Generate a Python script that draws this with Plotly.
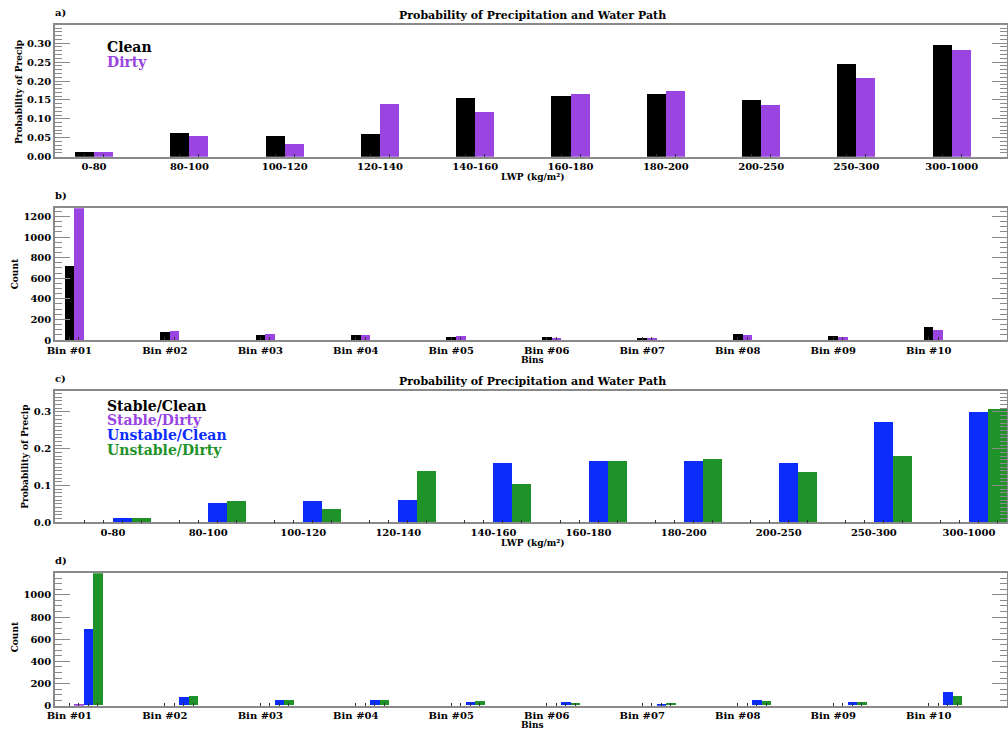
import numpy as np
import plotly.graph_objects as go

# ---- data -------------------------------------------------------------
lwp_bins = ["0-80", "80-100", "100-120", "120-140", "140-160",
            "160-180", "180-200", "200-250", "250-300", "300-1000"]
bin_names = ["Bin #01", "Bin #02", "Bin #03", "Bin #04", "Bin #05",
             "Bin #06", "Bin #07", "Bin #08", "Bin #09", "Bin #10"]

prob_clean = [0.012, 0.062, 0.055, 0.059, 0.156, 0.161, 0.167, 0.149, 0.245, 0.296]
prob_dirty = [0.012, 0.055, 0.033, 0.138, 0.118, 0.167, 0.174, 0.136, 0.207, 0.281]

count_clean = [713, 75, 49, 45, 29, 29, 13, 55, 36, 120]
count_dirty = [1280, 85, 55, 42, 39, 19, 19, 42, 29, 91]

prob_stable_clean = [0.0, 0.0, 0.0, 0.0, 0.0, 0.0, 0.0, 0.0, 0.0, 0.0]
prob_stable_dirty = [0.0, 0.0, 0.0, 0.0, 0.0, 0.0, 0.0, 0.0, 0.0, 0.0]
prob_unstable_clean = [0.012, 0.052, 0.058, 0.061, 0.162, 0.167, 0.167, 0.160, 0.274, 0.301]
prob_unstable_dirty = [0.012, 0.058, 0.035, 0.140, 0.104, 0.167, 0.173, 0.136, 0.180, 0.309]

count_stable_clean = [0, 0, 0, 0, 0, 0, 0, 0, 0, 0]
count_stable_dirty = [15, 0, 0, 0, 0, 0, 0, 0, 0, 0]
count_unstable_clean = [690, 76, 49, 49, 31, 31, 15, 52, 34, 118]
count_unstable_dirty = [1195, 84, 52, 49, 36, 22, 22, 43, 27, 88]

# ---- styling ----------------------------------------------------------
BLACK = "#000000"
PURPLE = "#9a44e2"
BLUE = "#0c2cfb"
GREEN = "#1f922a"
AXIS_GRAY = "#8a8a8a"
FONT = "DejaVu Serif"

W, H = 1008, 732


def fx(p):
    return p / W


def fy(p):
    return 1 - p / H


X_DOMAIN = [fx(55), fx(1007)]
# vertical pixel extent of each panel (top, bottom)
PANEL_PX = {"a": (25, 156.7), "b": (208.3, 340), "c": (391, 522.3), "d": (573.3, 705.7)}

idx = np.arange(len(lwp_bins))

fig = go.Figure()


def add_bars(values, color, xa, ya, width, offset):
    fig.add_trace(go.Bar(
        x=idx, y=values, width=width, offset=offset,
        marker=dict(color=color, line=dict(width=0)),
        xaxis=xa, yaxis=ya, showlegend=False, hoverinfo="skip",
    ))


# a) probability, clean vs dirty
add_bars(prob_clean, BLACK, "x", "y", 0.2, -0.2)
add_bars(prob_dirty, PURPLE, "x", "y", 0.2, 0.0)
# b) counts, clean vs dirty
add_bars(count_clean, BLACK, "x2", "y2", 0.1, -0.05)
add_bars(count_dirty, PURPLE, "x2", "y2", 0.1, 0.05)
# c) probability by stability / aerosol
add_bars(prob_stable_clean, BLACK, "x3", "y3", 0.2, -0.4)
add_bars(prob_stable_dirty, PURPLE, "x3", "y3", 0.2, -0.2)
add_bars(prob_unstable_clean, BLUE, "x3", "y3", 0.2, 0.0)
add_bars(prob_unstable_dirty, GREEN, "x3", "y3", 0.2, 0.2)
# d) counts by stability / aerosol
add_bars(count_stable_clean, BLACK, "x4", "y4", 0.1, -0.05)
add_bars(count_stable_dirty, PURPLE, "x4", "y4", 0.1, 0.05)
add_bars(count_unstable_clean, BLUE, "x4", "y4", 0.1, 0.15)
add_bars(count_unstable_dirty, GREEN, "x4", "y4", 0.1, 0.25)

tick_font = dict(family=FONT, size=10, color="black", weight="bold")


def xaxis_cfg(anchor, xrange, labels, centers):
    return dict(
        domain=X_DOMAIN, anchor=anchor, range=xrange,
        showline=True, linecolor=AXIS_GRAY, linewidth=1.5, mirror=True,
        showgrid=False, zeroline=False, ticks="",
        tickmode="array", tickvals=list(idx), ticktext=labels,
        tickfont=tick_font,
        minor=dict(ticks="inside", ticklen=3, tickwidth=1, tickcolor="#333333",
                   tickmode="array", tickvals=centers),
    )


def yaxis_cfg(anchor, panel, yrange, dtick, minor_dtick, fmt):
    top, bot = PANEL_PX[panel]
    return dict(
        domain=[fy(bot), fy(top)], anchor=anchor, range=yrange,
        showline=True, linecolor=AXIS_GRAY, linewidth=1.5, mirror="ticks",
        showgrid=False, zeroline=False,
        ticks="inside", ticklen=15, tickwidth=1.2, tickcolor=AXIS_GRAY,
        dtick=dtick, tick0=0, tickformat=fmt, tickfont=tick_font,
        minor=dict(ticks="inside", ticklen=7, tickwidth=1, tickcolor=AXIS_GRAY,
                   dtick=minor_dtick, tick0=0),
    )


def centers(offsets, width):
    return [float(i + o + width / 2) for i in idx for o in offsets]


layout = dict(
    width=W, height=H, margin=dict(l=0, r=0, t=0, b=0),
    paper_bgcolor="white", plot_bgcolor="white", template="none",
    bargap=0, font=dict(family=FONT, color="black"),
    xaxis=xaxis_cfg("y", [-0.41, 9.58], lwp_bins, centers([-0.2, 0.0], 0.2)),
    xaxis2=xaxis_cfg("y2", [-0.15, 9.82], bin_names, centers([-0.05, 0.05], 0.1)),
    xaxis3=xaxis_cfg("y3", [-0.61, 9.40], lwp_bins, centers([-0.4, -0.2, 0.0, 0.2], 0.2)),
    xaxis4=xaxis_cfg("y4", [-0.15, 9.82], bin_names, centers([-0.05, 0.05, 0.15, 0.25], 0.1)),
    yaxis=yaxis_cfg("x", "a", [0, 0.348], 0.05, 0.01, ".2f"),
    yaxis2=yaxis_cfg("x2", "b", [0, max(count_dirty)], 200, 50, "d"),
    yaxis3=yaxis_cfg("x3", "c", [0, 0.357], 0.1, 0.01, ".1f"),
    yaxis4=yaxis_cfg("x4", "d", [0, max(count_unstable_dirty)], 200, 50, "d"),
)
fig.update_layout(**layout)


def text(s, x, y, size=10, color="black", xanchor="center", angle=0):
    fig.add_annotation(
        text=s, x=fx(x), y=fy(y), xref="paper", yref="paper",
        xanchor=xanchor, yanchor="middle", showarrow=False, textangle=angle,
        font=dict(family=FONT, size=size, color=color, weight="bold"),
    )


TITLE = "Probability of Precipitation and Water Path"
LWP_LABEL = "LWP (kg/m²)"

# panel letters
text("a)", 53, 12.7, 10, xanchor="left")
text("b)", 53, 195, 10, xanchor="left")
text("c)", 53, 378.3, 10, xanchor="left")
text("d)", 53, 560, 10, xanchor="left")

# titles
text(TITLE, 532.5, 15.7, 11)
text(TITLE, 532.5, 381.7, 11)

# axis titles
text("Probability of Precip", 18.3, 91.7, 9, angle=-90)
text("Probability of Precip", 25, 456.7, 9, angle=-90)
text("Count", 15, 274.3, 9, angle=-90)
text("Count", 15, 637.3, 9, angle=-90)
text(LWP_LABEL, 532.5, 176.7, 9)
text(LWP_LABEL, 532.5, 543.3, 9)
text("Bins", 532, 360, 9)
text("Bins", 532, 725, 9)

# series keys
text("Clean", 105, 47.3, 14, BLACK, xanchor="left")
text("Dirty", 105, 62.3, 14, PURPLE, xanchor="left")
text("Stable/Clean", 105, 405.7, 14, BLACK, xanchor="left")
text("Stable/Dirty", 105, 420.4, 14, PURPLE, xanchor="left")
text("Unstable/Clean", 105, 435.1, 14, BLUE, xanchor="left")
text("Unstable/Dirty", 105, 449.8, 14, GREEN, xanchor="left")

fig.write_html("out.html")
